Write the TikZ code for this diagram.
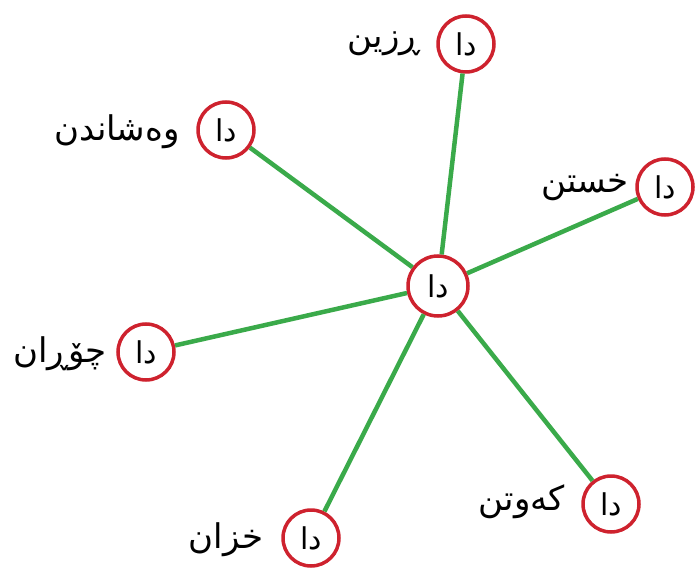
\documentclass[tikz,border=0pt]{standalone}
\usepackage{fontspec}
\newfontfamily\arabicfont[Script=Arabic]{DejaVu Sans}
\TeXXeTstate=1
\definecolor{edgegreen}{RGB}{58,170,74}
\definecolor{ringred}{RGB}{206,34,46}
\begin{document}
\begin{tikzpicture}[x=1pt,y=-1pt,
  ring/.style={circle,draw=ringred,line width=3.5pt,fill=white,minimum size=56pt,inner sep=0pt,font=\arabicfont\fontsize{30}{30}\selectfont},
  word/.style={font=\arabicfont\fontsize{34}{36}\selectfont,inner sep=0pt},
  edge/.style={draw=edgegreen,line width=4.5pt}]
\useasboundingbox (0,0) rectangle (698,569);
\node[ring,minimum size=60pt] (c) at (438,286) {\beginR دا\endR};
\node[ring] (n1) at (466,44) {\beginR دا\endR};
\node[ring] (n2) at (226,130) {\beginR دا\endR};
\node[ring] (n3) at (665,187) {\beginR دا\endR};
\node[ring] (n4) at (146,352) {\beginR دا\endR};
\node[ring] (n5) at (611,504) {\beginR دا\endR};
\node[ring] (n6) at (311,538) {\beginR دا\endR};
\node[word] (l1) at (384,44) {\beginR ڕزین\endR};
\node[word] (l2) at (117,132) {\beginR وەشاندن\endR};
\node[word] (l3) at (585,188) {\beginR خستن\endR};
\node[word] (l4) at (60,354) {\beginR چۆڕان\endR};
\node[word] (l5) at (522,502) {\beginR کەوتن\endR};
\node[word] (l6) at (226,540) {\beginR خزان\endR};
\foreach \n in {n1,n2,n3,n4,n5,n6} \draw[edge] (c) -- (\n);
\end{tikzpicture}
\end{document}
